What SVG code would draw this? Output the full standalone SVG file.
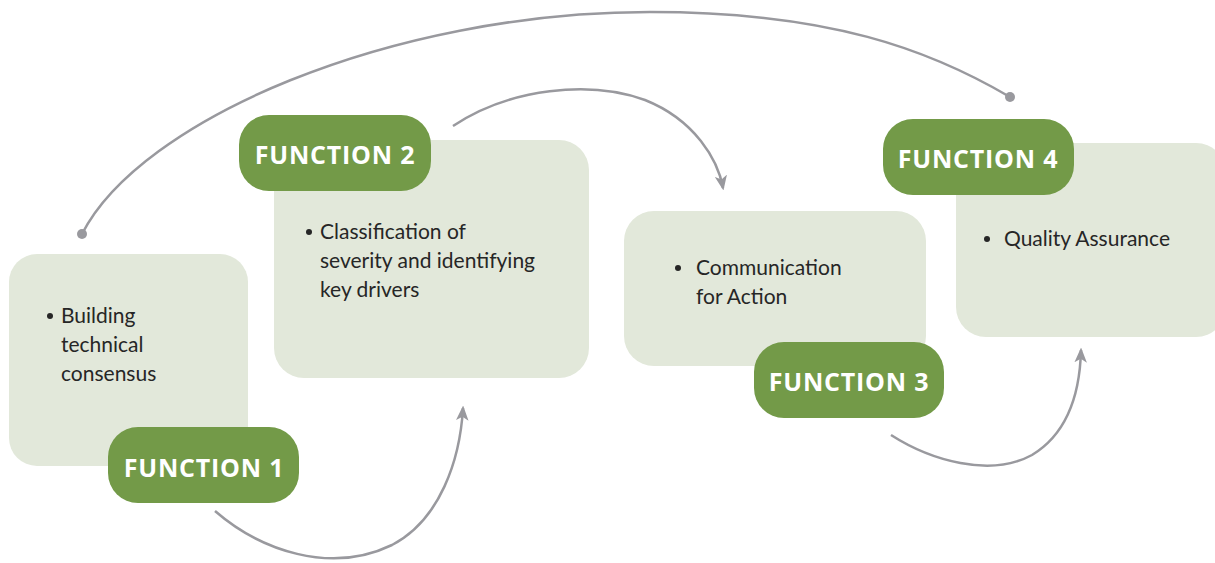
<svg xmlns="http://www.w3.org/2000/svg" width="1215" height="563" viewBox="0 0 1215 563">
<style>
.box{fill:#e2e8da}
.badge{fill:#739a48}
.lbl{font-family:"Open Sans","Liberation Sans",sans-serif;font-weight:700;font-size:25px;letter-spacing:0.8px;fill:#ffffff;text-anchor:middle}
.txt{font-family:Lato,"Open Sans","Liberation Sans",sans-serif;font-size:21px;fill:#262626}
.con{fill:none;stroke:#99999e;stroke-width:2.5}
.dot{fill:#99999e}
</style>
<defs>
<marker id="arr" viewBox="0 0 12 10" refX="10" refY="5" markerWidth="6" markerHeight="5" markerUnits="strokeWidth" orient="auto">
<path d="M0,0 L12,5 L0,10 L3,5 z" fill="#99999e"/>
</marker>
</defs>
<g id="connectors">
<path class="con" d="M82,234 C140,120 390,12 650,12 C830,12 930,50 1010,97"/>
<circle class="dot" cx="82" cy="234" r="5"/>
<circle class="dot" cx="1010" cy="97" r="5"/>
<path class="con" marker-end="url(#arr)" d="M215,511 C260,550 330,575 392,545 C440,520 460,460 463,408"/>
<path class="con" marker-end="url(#arr)" d="M453,126 C510,88 590,80 645,100 C695,120 718,160 723,188"/>
<path class="con" marker-end="url(#arr)" d="M891,435 C930,460 990,478 1032,455 C1070,432 1080,390 1081,350"/>
</g>
<g id="node1">
<rect class="box" x="9" y="254" width="239" height="212" rx="28"/>
<rect class="badge" x="108" y="427" width="191" height="76" rx="30"/>
<text class="lbl" x="204" y="477">FUNCTION 1</text>
<circle cx="50" cy="316" r="3" fill="#262626"/>
<text class="txt"><tspan x="61" y="323">Building</tspan><tspan x="61" y="352">technical</tspan><tspan x="61" y="381">consensus</tspan></text>
</g>
<g id="node2">
<rect class="box" x="274" y="140" width="315" height="238" rx="30"/>
<rect class="badge" x="239" y="115" width="192" height="76" rx="30"/>
<text class="lbl" x="335" y="164">FUNCTION 2</text>
<circle cx="309" cy="232" r="3" fill="#262626"/>
<text class="txt"><tspan x="320" y="239">Classification of</tspan><tspan x="320" y="268">severity and identifying</tspan><tspan x="320" y="297">key drivers</tspan></text>
</g>
<g id="node3">
<rect class="box" x="624" y="211" width="302" height="155" rx="30"/>
<rect class="badge" x="754" y="342" width="190" height="76" rx="30"/>
<text class="lbl" x="849" y="391">FUNCTION 3</text>
<circle cx="678" cy="268" r="3" fill="#262626"/>
<text class="txt"><tspan x="696" y="275">Communication</tspan><tspan x="696" y="304">for Action</tspan></text>
</g>
<g id="node4">
<rect class="box" x="956" y="143" width="270" height="194" rx="30"/>
<rect class="badge" x="883" y="119" width="191" height="76" rx="30"/>
<text class="lbl" x="978" y="168">FUNCTION 4</text>
<circle cx="987" cy="239" r="3" fill="#262626"/>
<text class="txt"><tspan x="1004" y="246">Quality Assurance</tspan></text>
</g>
</svg>
